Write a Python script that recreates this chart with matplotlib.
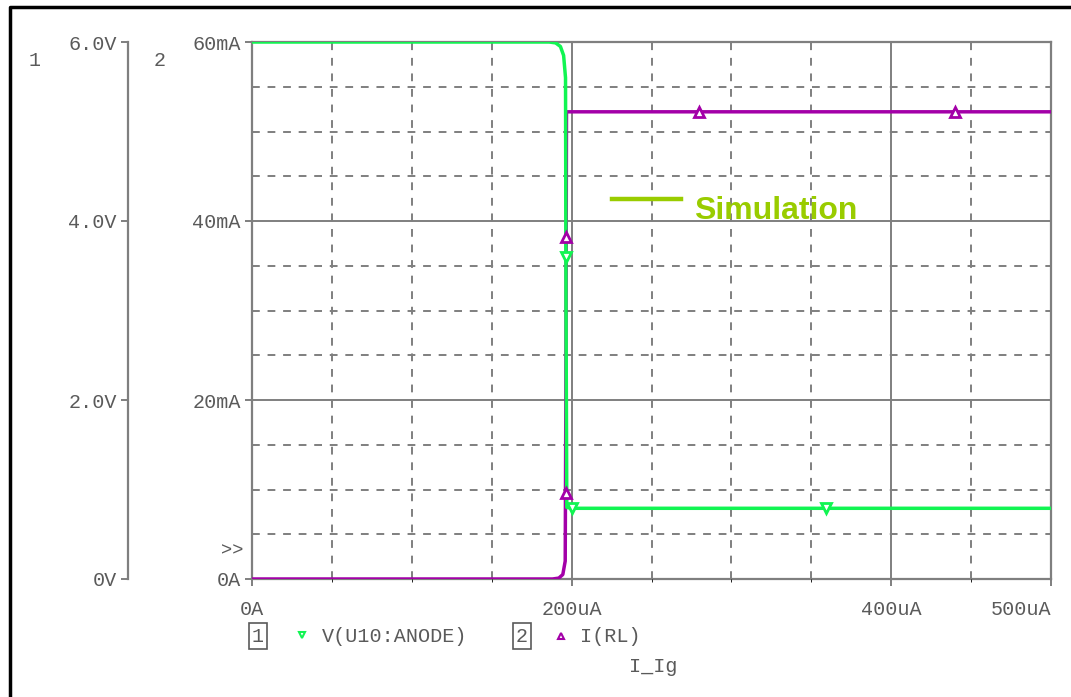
import matplotlib
matplotlib.use("Agg")
import matplotlib.pyplot as plt
from matplotlib.lines import Line2D
from matplotlib.ticker import FixedLocator, MultipleLocator

# ---------------- data ----------------
# sweep variable I_Ig in uA
v_x = [0, 186, 190, 193, 195, 196.2, 196.5, 197, 200, 500]
v_y = [6.0, 6.0, 5.99, 5.95, 5.85, 5.6, 3.0, 0.80, 0.79, 0.79]      # V(U10:ANODE) [V]
i_x = [0, 188, 192, 194.5, 196, 196.4, 196.8, 200, 500]
i_y = [0.0, 0.0, 0.1, 0.5, 2.0, 20.0, 52.2, 52.2, 52.2]              # I(RL) [mA]

v_mark_x = [196.5, 200, 359]
v_mark_y = [3.6, 0.79, 0.79]
i_mark_x = [196.2, 196.5, 280, 440]
i_mark_y = [9.6, 38.2, 52.2, 52.2]

x_ticks = [0, 200, 400, 500]
x_labels = ["0A", "200uA", "400uA", "500uA"]
i_ticks = [0, 20, 40, 60]
i_labels = ["0A", "20mA", "40mA", "60mA"]
v_ticks = [0, 2, 4, 6]
v_labels = ["0V", "2.0V", "4.0V", "6.0V"]

W, H = 1071, 697
GREEN = "#11f552"
PURPLE = "#a300a8"
GRID = "#7f7f7f"
TXT = "#5a5a5a"
MONO = "Liberation Mono"
FS = 14.5

def fx(x):
    return x / W

def fy(y):
    return 1 - y / H

fig = plt.figure(figsize=(W / 100, H / 100), dpi=100)
fig.patch.set_facecolor("white")

L, R, T, B = 252, 1051, 42, 579
rect = [fx(L), fy(B), fx(R) - fx(L), fy(T) - fy(B)]
ax = fig.add_axes(rect)
ax.set_xlim(0, 500)
ax.set_ylim(0, 60)

# grid
ax.xaxis.set_major_locator(FixedLocator(x_ticks))
ax.xaxis.set_minor_locator(MultipleLocator(50))
ax.yaxis.set_major_locator(FixedLocator(i_ticks))
ax.yaxis.set_minor_locator(MultipleLocator(5))
ax.grid(which="major", color=GRID, lw=1.4, ls="-")
ax.grid(which="minor", color=GRID, lw=1.4, ls=(0, (4, 4)))
ax.set_axisbelow(True)
ax.set_xticklabels(x_labels, family=MONO, fontsize=FS, color=TXT)
ax.set_yticklabels(i_labels, family=MONO, fontsize=FS, color=TXT)
ax.tick_params(which="major", length=5, width=1.4, color=GRID, pad=3)
ax.tick_params(which="minor", length=0)
ax.tick_params(axis="x", pad=10)
for s in ax.spines.values():
    s.set_color(GRID)
    s.set_linewidth(1.6)
xl = ax.get_xticklabels()
xl[-1].set_horizontalalignment("right")

# V axis (axis 1)
axv = fig.add_axes(rect, sharex=ax)
axv.set_ylim(0, 6)
axv.patch.set_visible(False)
for k in ("top", "right", "bottom"):
    axv.spines[k].set_visible(False)
axv.spines["left"].set_position(("axes", -(L - 128) / (R - L)))
axv.spines["left"].set_color(GRID)
axv.spines["left"].set_linewidth(1.6)
axv.set_yticks(v_ticks)
axv.set_yticklabels(v_labels, family=MONO, fontsize=FS, color=TXT)
axv.tick_params(axis="y", length=5, width=1.4, color=GRID, pad=3)
axv.tick_params(axis="x", bottom=False, labelbottom=False)

# curves
axv.plot(v_x, v_y, color=GREEN, lw=2.5, solid_capstyle="butt", zorder=3)
ax.plot(i_x, i_y, color=PURPLE, lw=2.5, solid_capstyle="butt", zorder=3)
axv.plot(v_mark_x, v_mark_y, ls="none", marker="v", ms=6.5, mfc="white",
         mec=GREEN, mew=2, zorder=4)
axv.plot(i_mark_x, [y / 10 for y in i_mark_y], ls="none", marker="^", ms=6.5,
         mfc="white", mec=PURPLE, mew=2, zorder=4)

# axis numbers and misc text
fig.text(fx(35), fy(60), "1", family=MONO, fontsize=FS, color=TXT, ha="center", va="center")
fig.text(fx(160), fy(60), "2", family=MONO, fontsize=FS, color=TXT, ha="center", va="center")
fig.text(fx(232), fy(551), ">>", family=MONO, fontsize=FS - 1, color=TXT, ha="center", va="center")

# legend row
fig.text(fx(258), fy(636), "1", family=MONO, fontsize=FS, color=TXT, ha="center", va="center",
         bbox=dict(boxstyle="square,pad=0.15", fc="white", ec=TXT, lw=1.2))
fig.add_artist(Line2D([fx(302)], [fy(635)], marker="v", ms=5, mfc="white", mec=GREEN,
                      mew=1.5, ls="none"))
fig.text(fx(322), fy(636), "V(U10:ANODE)", family=MONO, fontsize=FS, color=TXT, ha="left", va="center")
fig.text(fx(522), fy(636), "2", family=MONO, fontsize=FS, color=TXT, ha="center", va="center",
         bbox=dict(boxstyle="square,pad=0.15", fc="white", ec=TXT, lw=1.2))
fig.add_artist(Line2D([fx(561)], [fy(636)], marker="^", ms=5, mfc="white", mec=PURPLE,
                      mew=1.5, ls="none"))
fig.text(fx(580), fy(636), "I(RL)", family=MONO, fontsize=FS, color=TXT, ha="left", va="center")
fig.text(fx(653), fy(666), "I_Ig", family=MONO, fontsize=FS, color=TXT, ha="center", va="center")

# Simulation annotation
fig.add_artist(Line2D([fx(612), fx(681)], [fy(199), fy(199)], color="#99cc00", lw=3.2))
fig.text(fx(694), fy(211), "Simulation", family="Liberation Sans", fontweight="bold",
         fontsize=23, color="#99cc00", ha="left", va="center")

# outer frame
fig.add_artist(Line2D([fx(10), fx(10), 1], [0, fy(7), fy(7)], color="black", lw=2.5))

fig.savefig("out.png", dpi=100)
